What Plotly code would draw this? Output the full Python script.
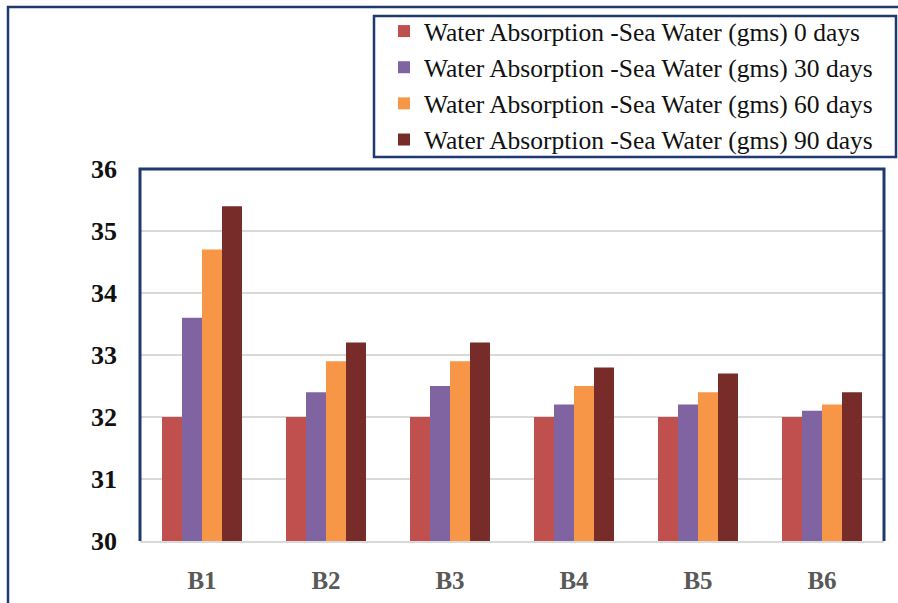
import plotly.graph_objects as go

# Samples and water absorption (gms) after immersion in sea water
samples = ["B1", "B2", "B3", "B4", "B5", "B6"]
days_0 = [32.0, 32.0, 32.0, 32.0, 32.0, 32.0]
days_30 = [33.6, 32.4, 32.5, 32.2, 32.2, 32.1]
days_60 = [34.7, 32.9, 32.9, 32.5, 32.4, 32.2]
days_90 = [35.4, 33.2, 33.2, 32.8, 32.7, 32.4]

series_names = [
    "Water Absorption -Sea Water (gms) 0 days",
    "Water Absorption -Sea Water (gms) 30 days",
    "Water Absorption -Sea Water (gms) 60 days",
    "Water Absorption -Sea Water (gms) 90 days",
]
series_values = [days_0, days_30, days_60, days_90]
series_colors = ["#C0504D", "#8064A2", "#F79646", "#772C2A"]

y_ticks = [30, 31, 32, 33, 34, 35, 36]

NAVY = "#1F3A6E"
SERIF = "Liberation Serif"

fig = go.Figure()
for name, vals, col in zip(series_names, series_values, series_colors):
    fig.add_trace(go.Bar(x=samples, y=vals, name=name,
                         marker=dict(color=col, line=dict(width=0))))

# plot-area geometry in pixels
W, H = 898, 603
L, R, T, B = 140, 884, 169, 541


def px_x(px):
    return (px - L) / (R - L)


def px_y(py):
    return (B - py) / (B - T)


shapes = [
    # outer frame (runs off the right and bottom edges)
    dict(type="rect", xref="paper", yref="paper",
         x0=px_x(8), x1=px_x(910), y0=px_y(615), y1=px_y(7),
         line=dict(color=NAVY, width=2.5), layer="below"),
    # legend frame
    dict(type="rect", xref="paper", yref="paper",
         x0=px_x(374), x1=px_x(896), y0=px_y(157), y1=px_y(16),
         line=dict(color=NAVY, width=2.5), layer="above"),
    # plot-area frame: left, top, right
    dict(type="path", xref="paper", yref="paper",
         path="M0,0 L0,1 L1,1 L1,0",
         line=dict(color=NAVY, width=3), layer="above"),
]

fig.update_layout(
    width=W, height=H,
    margin=dict(l=L, r=W - R, t=T, b=H - B, pad=0, autoexpand=False),
    paper_bgcolor="white",
    plot_bgcolor="white",
    barmode="group",
    bargap=0.355,
    bargroupgap=0,
    shapes=shapes,
    showlegend=True,
    legend=dict(
        x=px_x(384), y=px_y(8), xanchor="left", yanchor="top",
        bgcolor="rgba(0,0,0,0)", borderwidth=0,
        font=dict(family=SERIF, size=25.5, color="#111111"),
        tracegroupgap=0,
    ),
    xaxis=dict(
        showgrid=False, showline=True, linecolor="#D9D9D9", linewidth=2,
        ticks="", ticklabelstandoff=16,
        tickfont=dict(family=SERIF, size=25, color="#595959", weight="bold"),
    ),
    yaxis=dict(
        range=[30, 36], tickvals=y_ticks, showgrid=True,
        gridcolor="#D9D9D9", gridwidth=2, zeroline=False, showline=False,
        ticks="", ticklabelstandoff=22,
        tickfont=dict(family=SERIF, size=26, color="#111111", weight="bold"),
    ),
)

fig.write_html("out.html")
